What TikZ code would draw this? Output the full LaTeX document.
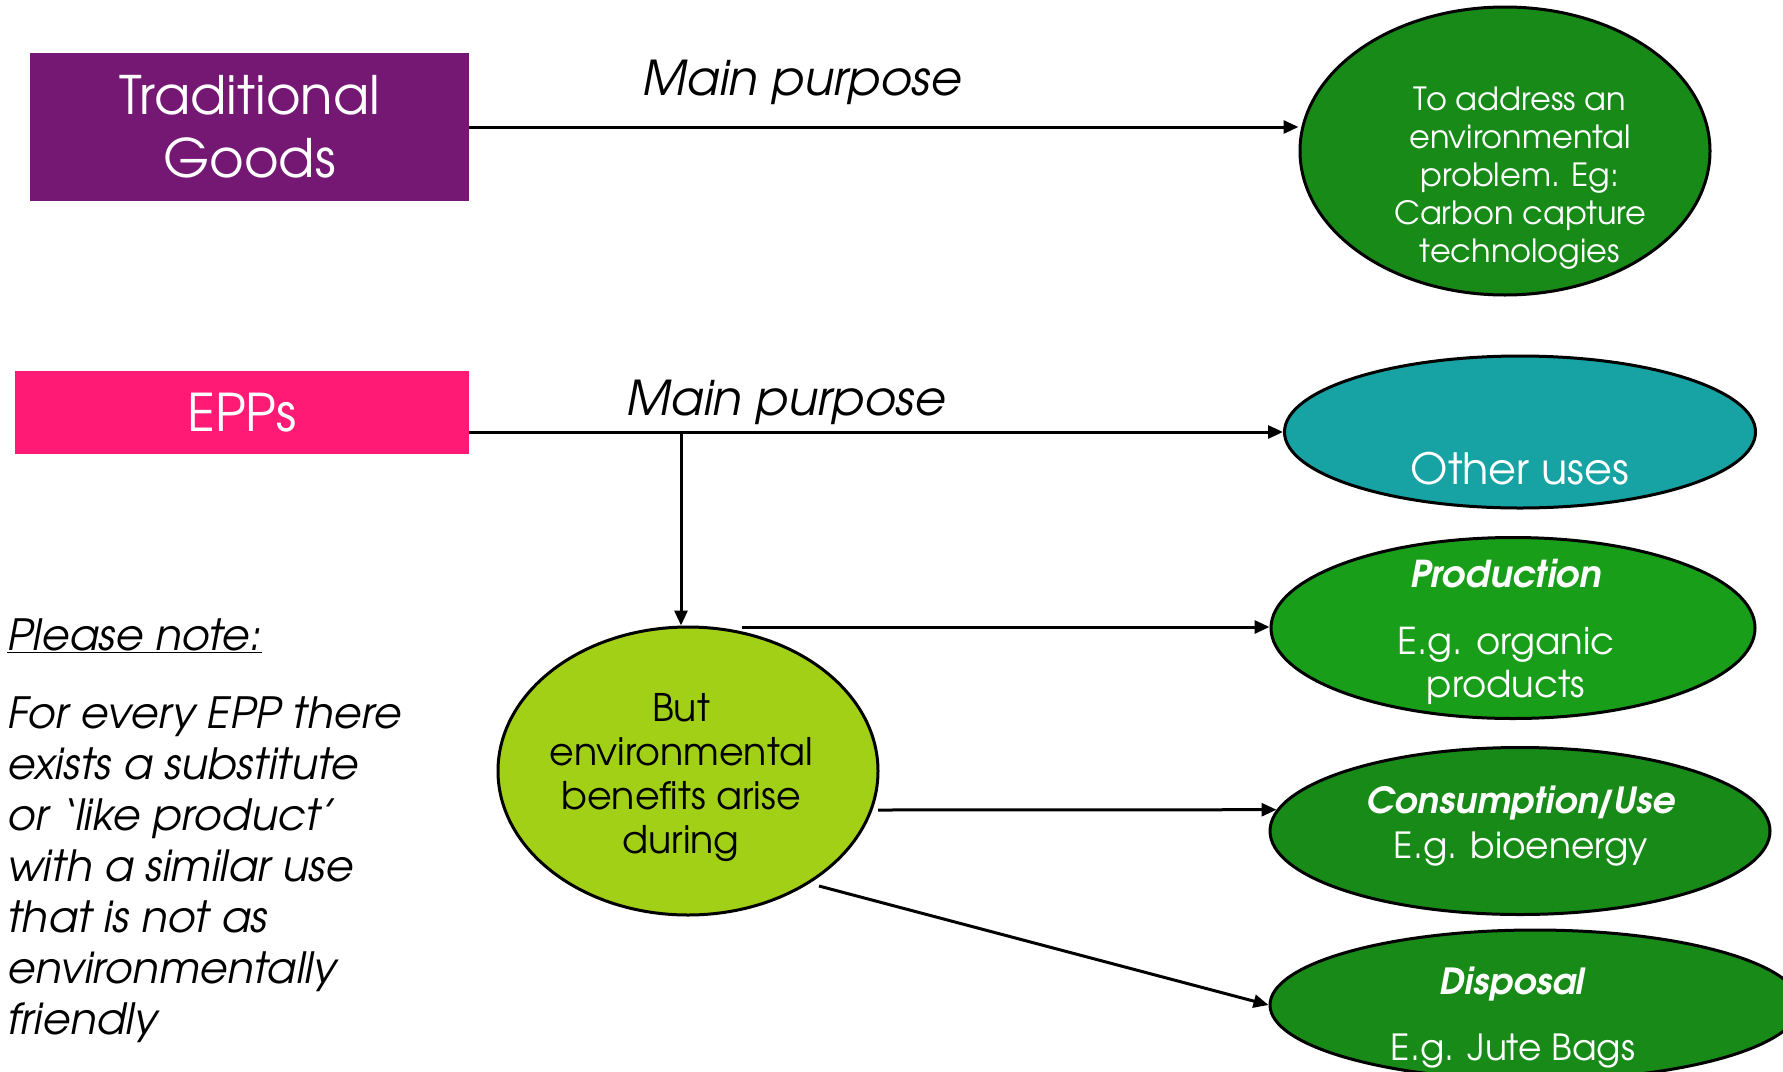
\documentclass[tikz,border=0pt]{standalone}
\usepackage{fontspec}
\setmainfont{TeX Gyre Adventor}
\usetikzlibrary{shapes.geometric,arrows.meta}

\definecolor{tradpurple}{RGB}{116,24,116}
\definecolor{epppink}{RGB}{255,26,117}
\definecolor{darkleaf}{RGB}{24,138,24}
\definecolor{brightleaf}{RGB}{25,158,25}
\definecolor{tealuse}{RGB}{23,162,164}
\definecolor{limeleaf}{RGB}{162,208,22}

\tikzset{
    fs/.style 2 args={font=\fontsize{#1}{#2}\selectfont},
    box/.style={rectangle, inner sep=0pt, text=white, align=center},
    blob/.style={draw=black, ellipse, line width=3pt, inner sep=0pt},
    arr/.style={line width=3pt, -{Triangle[length=15pt,width=13pt]}},
    lbl/.style={text=white, align=center, inner sep=0pt}
}

\begin{document}
\begin{tikzpicture}[x=1pt,y=-1pt]
                \useasboundingbox (0,0) rectangle (1783,1071);

                \node[box, fill=tradpurple, minimum width=439pt, minimum height=148pt, fs={53}{63}] (trad) at (249.5,127) {Traditional\\Goods};
                \node[box, fill=epppink, minimum width=454pt, minimum height=83pt, fs={52}{60}] (epps) at (242,412.5) {EPPs};

                \node[blob, fill=darkleaf, minimum width=410pt, minimum height=288pt] (env) at (1505,151) {};
                \node[lbl, fs={32}{38}] (envtxt) at (1520,178.5) {To address an\\environmental\\problem. Eg:\\Carbon capture\\technologies};

                \node[blob, fill=tealuse, minimum width=471pt, minimum height=152pt] (other) at (1520,432) {};
                \node[lbl, fs={43}{50}] (othertxt) at (1520,469) {Other uses};

                \node[blob, fill=brightleaf, minimum width=484pt, minimum height=181pt] (prod) at (1513,628) {};
                \node[lbl, fs={37}{43}] (prodtxt) at (1506,631.5) {\textbf{\textit{Production}}\\[24pt]E.g. organic\\products};

                \node[blob, fill=darkleaf, minimum width=500pt, minimum height=167pt] (cons) at (1520,831) {};
                \node[lbl, fs={36}{45}] (constxt) at (1521,826) {\textbf{\textit{Consumption\kern-3pt/\kern-3pt Use}}\\E.g. bioenergy};

                \node[blob, fill=darkleaf, minimum width=530pt, minimum height=150pt] (disp) at (1535,1005) {};
                \node[lbl, fs={36}{45}] (disptxt) at (1513,1018) {\textbf{\textit{Disposal}}\\[21pt]E.g. Jute Bags};

                \node[blob, fill=limeleaf, minimum width=380pt, minimum height=288pt] (but) at (688,771) {};
                \node[lbl, text=black, fs={38}{44}] (buttxt) at (681,777.5) {But\\environmental\\benefits arise\\during};

                \node[anchor=base, inner sep=0pt, fs={48}{56}] (purpose1) at (802,95) {\textit{Main purpose}};
                \node[anchor=base, inner sep=0pt, fs={48}{56}] (purpose2) at (786,415) {\textit{Main purpose}};

                \node[anchor=base west, inner sep=0pt, fs={43}{51}] (notehead) at (7,650) {\underline{\textit{Please note:}}};
                \node[anchor=north west, align=left, inner sep=0pt, fs={43}{51}] (notetext) at (7,697) {\textit{For every EPP there}\\\textit{exists a substitute}\\\textit{or ‘like product’}\\\textit{with a similar use}\\\textit{that is not as}\\\textit{environmentally}\\\textit{friendly}};

                \coordinate (split) at (681,432);
                \coordinate (prodfrom) at (742,627);
                \coordinate (consfrom) at (878,810);
                \coordinate (dispfrom) at (819,886);

                \draw[arr] (trad.east) -- (trad.east -| env.west);
                \draw[arr] (epps.east |- other.west) -- (other.west);
                \draw[arr] (split) -- (split |- but.north);
                \draw[arr] (prodfrom) -- (prodfrom -| prod.west);
                \draw[arr] (consfrom) -- (cons.175);
                \draw[arr] (dispfrom) -- (disp.west);
            \end{tikzpicture}
\end{document}
